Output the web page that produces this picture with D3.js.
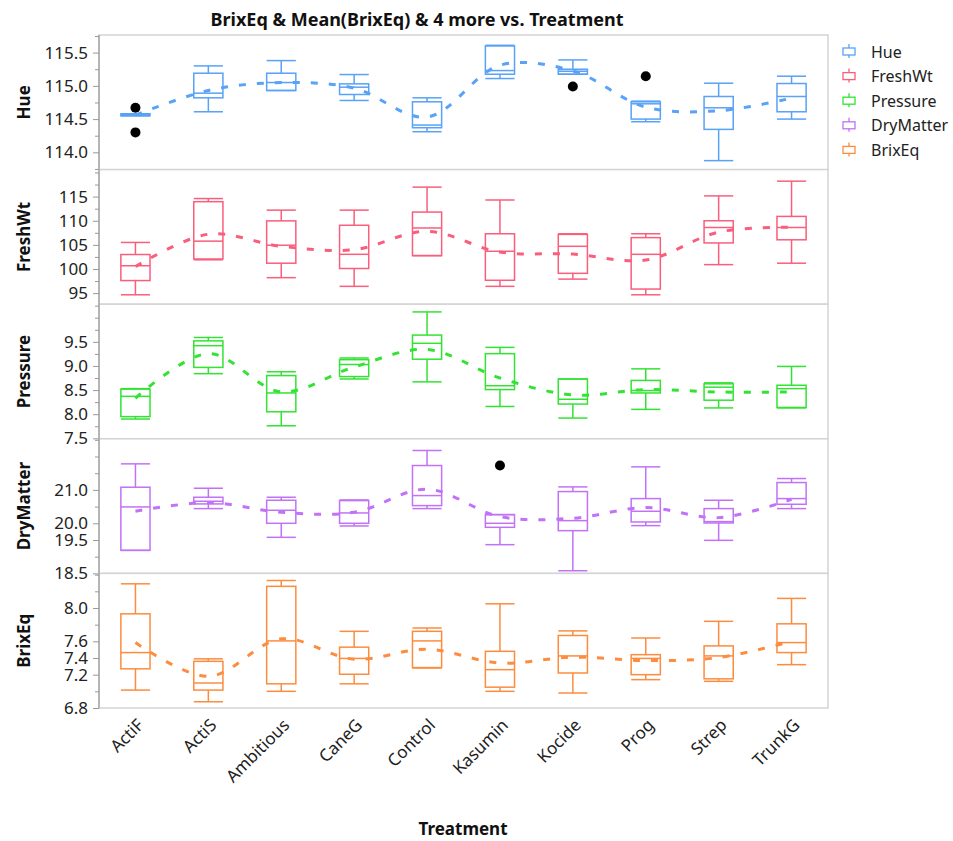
<!DOCTYPE html>
<html><head><meta charset="utf-8">
<script src="https://cdn.jsdelivr.net/npm/d3@7"></script>
<style>
body{margin:0;background:#fff;}
svg{font-family:"Noto Sans","Open Sans",sans-serif;}
</style></head>
<body><svg id="c" width="953" height="841"></svg>
<script>
const treatments = ["ActiF","ActiS","Ambitious","CaneG","Control","Kasumin","Kocide","Prog","Strep","TrunkG"];
const seriesNames = ["Hue","FreshWt","Pressure","DryMatter","BrixEq"];
const seriesColors = ["#58a2f7","#f95e7c","#33e333","#c172f7","#fd8c3e"];

// [min, q1, median, q3, max] per treatment
const hueBox = [[114.55,114.55,114.565,114.58,114.58],[114.61,114.82,114.89,115.19,115.30],[114.93,114.93,115.05,115.19,115.38],[114.78,114.87,114.98,115.03,115.17],[114.31,114.37,114.41,114.76,114.82],[115.11,115.175,115.23,115.60,115.61],[115.175,115.175,115.22,115.25,115.39],[114.46,114.50,114.73,114.76,114.77],[113.875,114.345,114.67,114.84,115.04],[114.50,114.61,114.84,115.035,115.145]];
const hueMean = [114.56,114.93,115.05,114.965,114.53,115.31,115.225,114.68,114.625,114.815];
const hueOutliers = [["ActiF",114.67],["ActiF",114.30],["Kocide",114.99],["Prog",115.145]];

const freshBox = [[94.65,97.6,100.67,103.0,105.5],[101.9,102.07,105.77,113.95,114.6],[98.2,101.2,104.93,109.97,112.2],[96.4,100.1,103.04,109.06,112.2],[102.77,102.77,108.5,111.8,116.97],[96.4,97.66,103.67,107.3,114.3],[97.9,99.1,104.7,107.17,107.3],[94.65,95.84,103.04,106.5,107.3],[100.9,105.4,108.6,110.0,115.15],[101.2,106.05,108.6,110.9,118.2]];
const freshMean = [100.5,107.2,104.7,104.0,107.8,103.5,103.1,101.85,107.65,108.65];
const freshOutliers = [];

const pressBox = [[7.90,7.95,8.37,8.52,8.53],[8.84,8.97,9.42,9.52,9.59],[7.76,8.05,8.44,8.80,8.88],[8.73,8.78,9.03,9.13,9.165],[8.67,9.14,9.47,9.64,10.12],[8.16,8.51,8.59,9.255,9.385],[7.92,8.21,8.31,8.73,8.73],[8.10,8.44,8.49,8.70,8.94],[8.13,8.29,8.56,8.63,8.65],[8.13,8.14,8.53,8.60,8.99]];
const pressMean = [8.33,9.255,8.465,8.98,9.34,8.75,8.40,8.51,8.46,8.46];
const pressOutliers = [];

const dryBox = [[19.19,19.19,20.49,21.08,21.78],[20.44,20.58,20.66,20.78,21.05],[19.58,20.0,20.39,20.69,20.78],[19.92,20.0,20.31,20.68,20.70],[20.44,20.53,20.83,21.73,22.18],[19.36,19.88,20.0,20.26,20.26],[18.58,19.78,20.08,20.95,21.09],[19.93,20.04,20.36,20.74,21.69],[19.49,20.01,20.05,20.44,20.69],[20.44,20.57,20.74,21.22,21.34]];
const dryMean = [20.36,20.62,20.33,20.33,21.02,20.2,20.15,20.47,20.17,20.72];
const dryOutliers = [["Kasumin",21.73]];

const brixBox = [[7.015,7.27,7.465,7.93,8.29],[6.875,7.015,7.10,7.36,7.39],[7.0,7.09,7.605,8.26,8.33],[7.09,7.205,7.395,7.53,7.72],[7.28,7.285,7.605,7.72,7.76],[7.0,7.05,7.26,7.48,8.05],[6.98,7.22,7.425,7.67,7.725],[7.14,7.20,7.395,7.44,7.64],[7.12,7.15,7.425,7.545,7.84],[7.32,7.465,7.585,7.81,8.115]];
const brixMean = [7.585,7.18,7.63,7.385,7.505,7.34,7.41,7.37,7.405,7.60];
const brixOutliers = [];

// axis domains, ticks and labels
const yDomains = [[113.74,115.765],[92.7,120.6],[7.49,10.28],[18.5,22.53],[6.8,8.415]];
const hueTicks = [114.0,114.5,115.0,115.5];
const hueMinor = [113.75,114.25,114.75,115.25,115.75];
const freshTicks = [95,100,105,110,115];
const freshMinor = [92.5,97.5,102.5,107.5,112.5,117.5,120];
const pressTicks = [7.5,8.0,8.5,9.0,9.5];
const pressMinor = [7.75,8.25,8.75,9.25,9.75,10.0,10.25];
const dryTicks = [18.5,19.5,20.0,21.0];
const dryMinor = [19.0,20.5,21.5,22.0,22.5];
const brixTicks = [6.8,7.2,7.4,7.6,8.0];
const brixMinor = [7.0,7.8,8.2,8.4];

const panels = [
  {name:"Hue", box:hueBox, mean:hueMean, out:hueOutliers, ticks:hueTicks, minor:hueMinor, fmt:d3.format(".1f")},
  {name:"FreshWt", box:freshBox, mean:freshMean, out:freshOutliers, ticks:freshTicks, minor:freshMinor, fmt:d3.format("d")},
  {name:"Pressure", box:pressBox, mean:pressMean, out:pressOutliers, ticks:pressTicks, minor:pressMinor, fmt:d3.format(".1f")},
  {name:"DryMatter", box:dryBox, mean:dryMean, out:dryOutliers, ticks:dryTicks, minor:dryMinor, fmt:d3.format(".1f")},
  {name:"BrixEq", box:brixBox, mean:brixMean, out:brixOutliers, ticks:brixTicks, minor:brixMinor, fmt:d3.format(".1f")}
];

const svg = d3.select("#c");
const L=99, R=828, T=35, B=708;
const ph = (B-T)/5;
const x = d3.scaleBand().domain(treatments).range([L,R]).padding(0);
const bw = x.bandwidth()*0.4;

svg.append("text").attr("x",417).attr("y",26).attr("text-anchor","middle")
  .attr("font-weight","bold").attr("font-size",18).attr("fill","#111")
  .text("BrixEq & Mean(BrixEq) & 4 more vs. Treatment");

panels.forEach((p,i)=>{
  const top = T+i*ph, bot = top+ph;
  const col = seriesColors[i];
  const y = d3.scaleLinear().domain(yDomains[i]).range([bot,top]);
  const g = svg.append("g");
  g.append("rect").attr("x",L).attr("y",top).attr("width",R-L).attr("height",ph)
    .attr("fill","#fff").attr("stroke","#d4d4d4").attr("stroke-width",1.5);
  // minor ticks
  const minorAx = svg.append("g").attr("transform",`translate(${L},0)`)
    .call(d3.axisLeft(y).tickValues(p.minor.filter(v=>v>=yDomains[i][0]&&v<=yDomains[i][1])).tickSize(4).tickFormat(""));
  minorAx.select(".domain").remove();
  minorAx.selectAll("line").attr("stroke","#999");
  const ax = svg.append("g").attr("transform",`translate(${L},0)`)
    .call(d3.axisLeft(y).tickValues(p.ticks).tickSize(6).tickPadding(5).tickFormat(p.fmt));
  ax.select(".domain").remove();
  ax.selectAll("line").attr("stroke","#999");
  ax.selectAll("text").attr("font-size",17).attr("fill","#222").attr("font-family","Noto Sans, sans-serif");
  svg.append("text").attr("transform",`translate(30,${top+ph/2}) rotate(-90)`)
    .attr("text-anchor","middle").attr("font-weight","bold").attr("font-size",17).attr("fill","#111").text(p.name);

  // boxes
  const bg = svg.append("g").attr("stroke",col).attr("stroke-width",1.5).attr("fill","none");
  p.box.forEach((b,j)=>{
    const cx = x(treatments[j]) + x.bandwidth()/2;
    const [mn,q1,md,q3,mx] = b;
    bg.append("line").attr("x1",cx).attr("x2",cx).attr("y1",y(mx)).attr("y2",y(q3));
    bg.append("line").attr("x1",cx).attr("x2",cx).attr("y1",y(q1)).attr("y2",y(mn));
    bg.append("line").attr("x1",cx-bw/2).attr("x2",cx+bw/2).attr("y1",y(mx)).attr("y2",y(mx));
    bg.append("line").attr("x1",cx-bw/2).attr("x2",cx+bw/2).attr("y1",y(mn)).attr("y2",y(mn));
    bg.append("rect").attr("x",cx-bw/2).attr("width",bw).attr("y",y(q3)).attr("height",Math.max(0.5,y(q1)-y(q3)));
    bg.append("line").attr("x1",cx-bw/2).attr("x2",cx+bw/2).attr("y1",y(md)).attr("y2",y(md));
  });
  // mean line
  const line = d3.line().x((d,j)=>x(treatments[j])+x.bandwidth()/2).y(d=>y(d)).curve(d3.curveCatmullRom.alpha(0.5));
  svg.append("path").attr("d",line(p.mean)).attr("fill","none").attr("stroke",col)
    .attr("stroke-width",3).attr("stroke-dasharray","7,11");
  // outliers
  svg.append("g").selectAll("circle").data(p.out).join("circle")
    .attr("cx",d=>x(d[0])+x.bandwidth()/2).attr("cy",d=>y(d[1])).attr("r",5).attr("fill","#000");
});

svg.append("line").attr("x1",L).attr("x2",L).attr("y1",T).attr("y2",B).attr("stroke","#999").attr("stroke-width",1.2);

// x axis labels
svg.append("g").selectAll("text").data(treatments).join("text")
  .attr("transform",d=>`translate(${x(d)+x.bandwidth()/2+5},${B+14}) rotate(-45)`)
  .attr("text-anchor","end").attr("dy","0.35em").attr("font-size",17).attr("fill","#222").text(d=>d);
svg.append("text").attr("x",463).attr("y",835).attr("text-anchor","middle")
  .attr("font-weight","bold").attr("font-size",17).attr("fill","#111").text("Treatment");

// legend
const lg = svg.append("g");
seriesNames.forEach((n,i)=>{
  const cy = 52 + i*24.6;
  const c = seriesColors[i];
  lg.append("line").attr("x1",849).attr("x2",849).attr("y1",cy-8).attr("y2",cy+6).attr("stroke",c).attr("stroke-width",1.3);
  lg.append("rect").attr("x",843).attr("y",cy-4).attr("width",12).attr("height",7).attr("fill","#fff").attr("stroke",c).attr("stroke-width",1.3);
  lg.append("text").attr("x",871).attr("y",cy).attr("dy","0.35em").attr("font-size",16).attr("fill","#222").text(n);
});
</script></body></html>
